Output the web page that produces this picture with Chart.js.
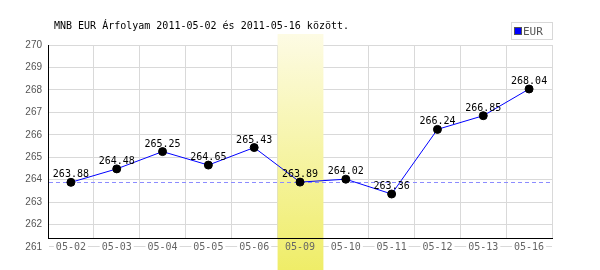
<!DOCTYPE html>
<html>
<head>
<meta charset="utf-8">
<script src="https://cdn.jsdelivr.net/npm/chart.js@4/dist/chart.umd.min.js"></script>
<style>
html,body{margin:0;padding:0;background:#fff;}
#wrap{width:600px;height:270px;position:relative;}
</style>
</head>
<body>
<div id="wrap"><canvas id="c" width="600" height="270"></canvas></div>
<script>
const titleText = 'MNB EUR Árfolyam 2011-05-02 és 2011-05-16 között.';
const seriesName = 'EUR';
const categories = ['05-02','05-03','05-04','05-05','05-06','05-09','05-10','05-11','05-12','05-13','05-16'];
const eurValues = [263.88, 264.48, 265.25, 264.65, 265.43, 263.89, 264.02, 263.36, 266.24, 266.85, 268.04];
const yTicks = [261, 262, 263, 264, 265, 266, 267, 268, 269, 270];
const referenceValue = 263.88;
const highlightCategory = '05-09';

const hiIndex = categories.indexOf(highlightCategory);
const MONO = '"DejaVu Sans Mono", monospace';

const decorPlugin = {
  id: 'decor',
  beforeDatasetsDraw(chart) {
    const ctx = chart.ctx, x = chart.scales.x, y = chart.scales.y, a = chart.chartArea;
    const cx = x.getPixelForValue(hiIndex);
    const half = (x.getPixelForValue(1) - x.getPixelForValue(0)) / 2;
    const top = 34, bottom = chart.height;
    const g = ctx.createLinearGradient(0, top, 0, bottom);
    g.addColorStop(0, '#fdfbe4');
    g.addColorStop(1, '#efed68');
    ctx.save();
    ctx.fillStyle = g;
    ctx.fillRect(cx - half + 0.5, top, half * 2, bottom - top);
    const ry = Math.round(y.getPixelForValue(referenceValue)) + 0.5;
    ctx.strokeStyle = '#8c8cff';
    ctx.lineWidth = 1;
    ctx.setLineDash([4, 3]);
    ctx.beginPath();
    ctx.moveTo(a.left + 1, ry);
    ctx.lineTo(a.right, ry);
    ctx.stroke();
    ctx.restore();
  },
  afterDatasetsDraw(chart) {
    const ctx = chart.ctx;
    const meta = chart.getDatasetMeta(0);
    ctx.save();
    ctx.font = '10px ' + MONO;
    ctx.fillStyle = '#000';
    ctx.textAlign = 'center';
    ctx.textBaseline = 'alphabetic';
    meta.data.forEach((pt, i) => {
      ctx.fillText(eurValues[i].toFixed(2), pt.x, pt.y - 5);
    });
    ctx.restore();
  },
  afterDraw(chart) {
    const ctx = chart.ctx;
    ctx.save();
    ctx.font = '10px ' + MONO;
    ctx.fillStyle = '#000';
    ctx.textAlign = 'left';
    ctx.textBaseline = 'alphabetic';
    ctx.fillText(titleText, 54, 29);
    ctx.fillStyle = '#fff';
    ctx.fillRect(511, 23, 41, 16);
    ctx.strokeStyle = '#d8d8d8';
    ctx.lineWidth = 1;
    ctx.strokeRect(511.5, 22.5, 41, 17);
    ctx.fillStyle = '#0000ff';
    ctx.fillRect(515, 28, 6, 6);
    ctx.strokeStyle = '#555';
    ctx.strokeRect(514.5, 27.5, 7, 7);
    ctx.fillStyle = '#555';
    ctx.font = '11px ' + MONO;
    ctx.fillText(seriesName, 523, 35);
    ctx.restore();
  }
};

new Chart(document.getElementById('c'), {
  type: 'line',
  data: {
    labels: categories,
    datasets: [{
      label: seriesName,
      data: eurValues,
      borderColor: '#0000ff',
      borderWidth: 1,
      tension: 0,
      pointRadius: 4,
      pointHoverRadius: 4,
      pointBackgroundColor: '#000',
      pointBorderColor: '#000',
      pointBorderWidth: 1,
      fill: false
    }]
  },
  options: {
    responsive: false,
    animation: false,
    events: [],
    layout: { padding: { top: 45, right: 48, left: 0, bottom: 0 } },
    plugins: { legend: { display: false }, title: { display: false }, tooltip: { enabled: false } },
    scales: {
      x: {
        type: 'category',
        offset: true,
        grid: { offset: true, color: '#d9d9d9', drawTicks: false, lineWidth: 1 },
        border: { color: '#000', width: 1, z: 1 },
        ticks: {
          z: 1,
          color: '#666',
          font: { family: MONO, size: 10 },
          padding: 3,
          maxRotation: 0,
          autoSkip: false,
          showLabelBackdrop: true,
          backdropColor: (c) => c.index === hiIndex ? 'rgba(0,0,0,0)' : '#fff',
          backdropPadding: 2
        },
        afterFit: (s) => { s.height = 32; }
      },
      y: {
        type: 'linear',
        min: 261.4,
        max: 270,
        bounds: 'data',
        grid: { color: '#d9d9d9', drawTicks: false, lineWidth: 1 },
        border: { color: '#000', width: 1 },
        ticks: {
          color: '#555',
          font: { family: '"Liberation Sans", Arial, sans-serif', size: 10 },
          padding: 6,
          autoSkip: false
        },
        afterBuildTicks: (s) => { s.ticks = yTicks.map(v => ({ value: v })); },
        afterFit: (s) => { s.width = 48; }
      }
    }
  },
  plugins: [decorPlugin]
});
</script>
</body>
</html>
